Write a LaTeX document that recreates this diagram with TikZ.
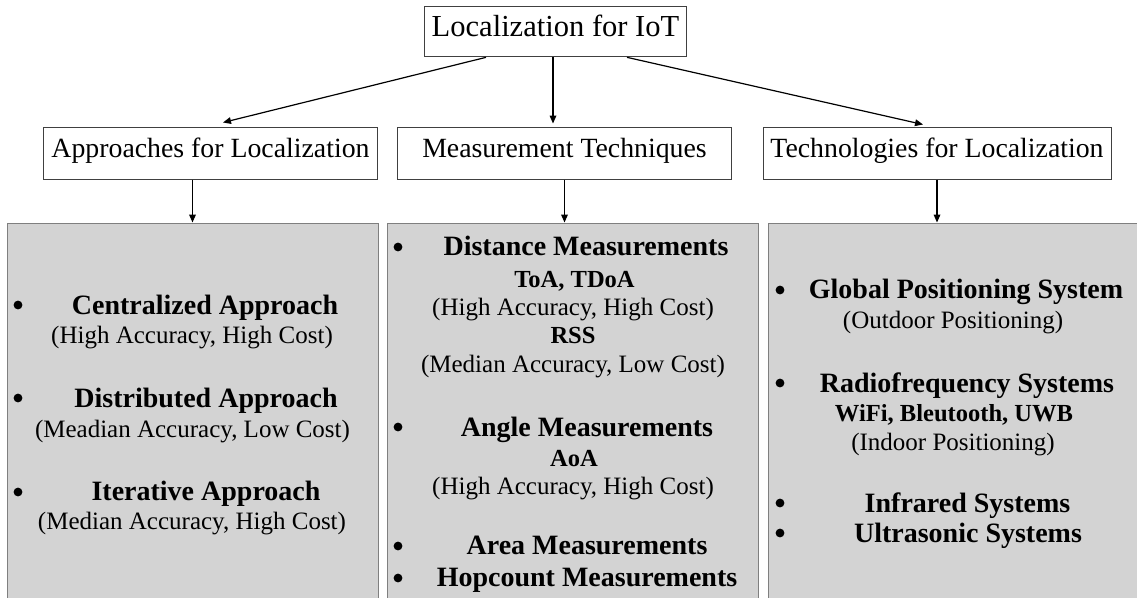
\documentclass[tikz,border=0pt]{standalone}
\usepackage{fontspec}
\setmainfont{Liberation Serif}
\usepackage{tikz}
\usetikzlibrary{arrows.meta, calc, fit}
\definecolor{panelgray}{HTML}{D3D3D3}
\definecolor{edgegray}{HTML}{7F7F7F}
\definecolor{framegray}{HTML}{404040}

\begin{document}
\begin{tikzpicture}[
  x=0.75pt, y=-0.75pt,
  topbox/.style={rectangle, draw=framegray, line width=0.75pt, minimum width=197pt, minimum height=38pt, text height=0.93em, text depth=0.18em, font=\fontsize{22.9}{27}\selectfont},
  headbox/.style={rectangle, draw=framegray, line width=0.75pt, minimum height=39pt, text height=0.9em, text depth=0.18em, font=\fontsize{20.85}{25}\selectfont},
  panel/.style={rectangle, draw=edgegray, fill=panelgray, line width=0.75pt, inner sep=0pt},
  item/.style={anchor=base, inner sep=0pt, font=\fontsize{21}{25}\selectfont\bfseries},
  tag/.style={anchor=base, inner sep=0pt, font=\fontsize{18.4}{22}\selectfont\bfseries},
  note/.style={anchor=base, inner sep=0pt, font=\fontsize{18.75}{22}\selectfont},
  dot/.style={circle, fill=black, inner sep=0pt, minimum size=6.6pt},
  arrow/.style={-{Triangle[length=6pt, width=5pt]}, line width=0.9pt, draw=black}
]
  \useasboundingbox (0,0) rectangle (1137,597);
  \clip (0,0) rectangle (1137,597);

  % Root
  \node[topbox] (root) at (555.5,31.5) {Localization for IoT};

  % Second level
  \node[headbox, minimum width=251pt] (appr) at (210.5,153) {Approaches for Localization};
  \node[headbox, minimum width=250pt] (meas) at (564.5,153) {Measurement Techniques};
  \node[headbox, minimum width=261pt] (tech) at (937,153) {Technologies for Localization};

  % Panels (run past the page edge)
  \node[panel, fit={(7,223) (378,610)}] (pa) {};
  \node[panel, fit={(387,223) (758,610)}] (pm) {};
  \node[panel, fit={(768,223) (1150,610)}] (pt) {};

  % Root connections
  \draw[arrow] ($(root.south)+(-69.5,0)$) -- ($(appr.north)+(12.5,-4)$);
  \draw[arrow] ($(root.south)+(-2.5,0)$) -- ($(meas.north)+(-11.5,-3)$);
  \draw[arrow] ($(root.south)+(71.5,0)$) -- ($(tech.north)+(-14,-2)$);

  % Down to panels
  \draw[arrow] (pa.north |- appr.south) -- (pa.north);
  \draw[arrow] (meas.south) -- (meas.south |- pm.north);
  \draw[arrow] (tech.south) -- (tech.south |- pt.north);

  % Left panel - approaches
  \node[dot] (ba1) at (18,305) {};
  \node[item] (cent) at (205,314) {Centralized Approach};
  \node[note] (centn) at (192,343) {(High Accuracy, High Cost)};
  \node[dot] (ba2) at (18,398) {};
  \node[item] (dist) at (206,407) {Distributed Approach};
  \node[note] (distn) at (192.5,437) {(Meadian Accuracy, Low Cost)};
  \node[dot] (ba3) at (18,492) {};
  \node[item] (iter) at (206,500) {Iterative Approach};
  \node[note] (itern) at (192,529) {(Median Accuracy, High Cost)};

  % Middle panel - measurements
  \node[dot] (bm1) at (398,247) {};
  \node[item] (dm) at (586,255) {Distance Measurements};
  \node[tag] (toa) at (574.5,287) {ToA, TDoA};
  \node[note] (toan) at (573,315) {(High Accuracy, High Cost)};
  \node[tag] (rss) at (573,343) {RSS};
  \node[note] (rssn) at (573,372) {(Median Accuracy, Low Cost)};
  \node[dot] (bm2) at (398,427) {};
  \node[item] (am) at (587,436) {Angle Measurements};
  \node[tag] (aoa) at (574,466) {AoA};
  \node[note] (aoan) at (573,494) {(High Accuracy, High Cost)};
  \node[dot] (bm3) at (398,546) {};
  \node[item] (arm) at (587,554) {Area Measurements};
  \node[dot] (bm4) at (398,578) {};
  \node[item] (hm) at (587,586) {Hopcount Measurements};

  % Right panel - technologies
  \node[dot] (bt1) at (780,290) {};
  \node[item] (gps) at (966,298) {Global Positioning System};
  \node[note] (gpsn) at (953,328) {(Outdoor Positioning)};
  \node[dot] (bt2) at (780,383) {};
  \node[item] (rf) at (967,392) {Radiofrequency Systems};
  \node[tag] (rft) at (954,421) {WiFi, Bleutooth, UWB};
  \node[note] (rfn) at (953,450) {(Indoor Positioning)};
  \node[dot] (bt3) at (780,503) {};
  \node[item] (ir) at (967.5,512) {Infrared Systems};
  \node[dot] (bt4) at (780,533) {};
  \node[item] (us) at (968,542) {Ultrasonic Systems};
\end{tikzpicture}
\end{document}
